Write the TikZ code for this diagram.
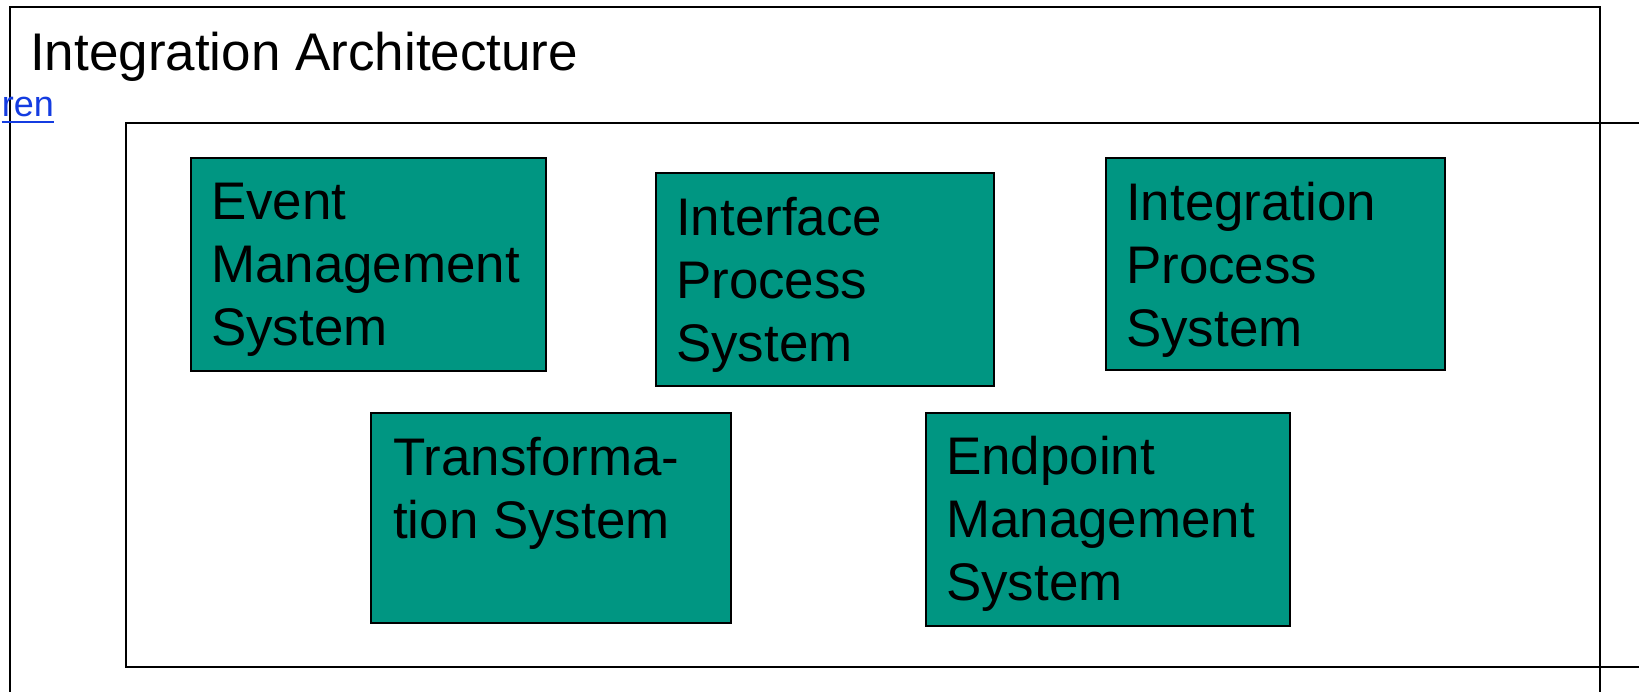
\documentclass[tikz,border=0pt]{standalone}
\usepackage{fontspec}
\setmainfont{Liberation Sans}
\definecolor{sysfill}{RGB}{0,150,130}
\definecolor{linkblue}{RGB}{20,60,225}
\begin{document}
\begin{tikzpicture}[x=1pt,y=-1pt,
  frame/.style={draw=black, line width=2pt},
  sysbox/.style={draw=black, fill=sysfill, line width=2pt, rectangle, inner sep=0pt, anchor=north west},
  systext/.style={anchor=base west, inner sep=0pt, font=\fontsize{52.9}{63}\selectfont},
  linktext/.style={anchor=base east, inner sep=0pt, text=linkblue, font=\fontsize{36}{40}\selectfont},
  titletext/.style={anchor=base west, inner sep=0pt, font=\fontsize{53}{60}\selectfont}]
\useasboundingbox (0,0) rectangle (1639,691);
\clip (0,0) rectangle (1639,691);
\fill[white] (0,0) rectangle (1639,691);
% outer and inner frames
\draw[frame] (10,7) rectangle (1600,720);
\draw[frame] (126,123) rectangle (1680,667);
% title and link
\node[titletext] (title) at (30,70) {Integration Architecture};
\node[linktext] (ren) at (54,116) {ren};
\draw[linkblue, line width=2.6pt] ([yshift=-6pt]ren.base west) -- ([yshift=-6pt]ren.base east);
% system boxes
\node[sysbox, minimum width=355pt, minimum height=213pt] (ems) at (190,157) {};
\node[sysbox, minimum width=338pt, minimum height=213pt] (ips) at (655,172) {};
\node[sysbox, minimum width=339pt, minimum height=212pt] (intp) at (1105,157) {};
\node[sysbox, minimum width=360pt, minimum height=210pt] (trs) at (370,412) {};
\node[sysbox, minimum width=364pt, minimum height=213pt] (eps) at (925,412) {};
% texts
\node[systext] (emst) at ([xshift=21pt,yshift=-62pt]ems.north west)
  {\begin{tabular}[t]{@{}l@{}}Event\\Management\\System\end{tabular}};
\node[systext] (ipst) at ([xshift=21pt,yshift=-63pt]ips.north west)
  {\begin{tabular}[t]{@{}l@{}}Interface\\Process\\System\end{tabular}};
\node[systext] (intpt) at ([xshift=21pt,yshift=-63pt]intp.north west)
  {\begin{tabular}[t]{@{}l@{}}Integration\\Process\\System\end{tabular}};
\node[systext] (trst) at ([xshift=23pt,yshift=-63pt]trs.north west)
  {\begin{tabular}[t]{@{}l@{}}Transforma-\\tion System\end{tabular}};
\node[systext] (epst) at ([xshift=21pt,yshift=-62pt]eps.north west)
  {\begin{tabular}[t]{@{}l@{}}Endpoint\\Management\\System\end{tabular}};
\end{tikzpicture}
\end{document}
